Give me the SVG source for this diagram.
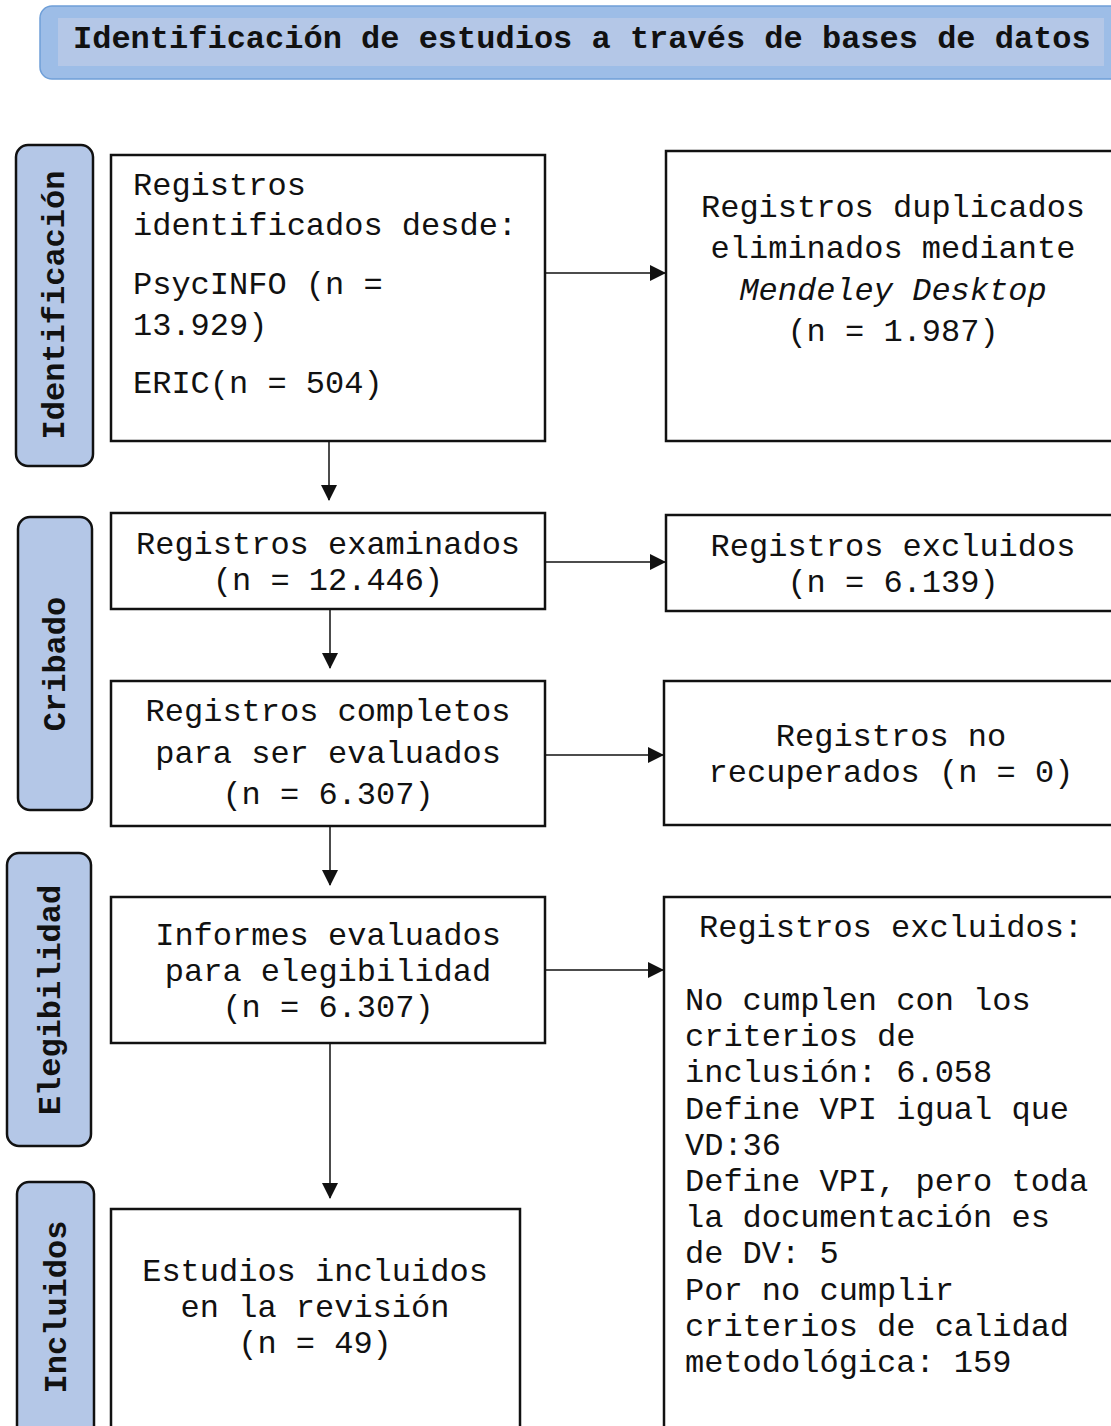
<svg xmlns="http://www.w3.org/2000/svg" width="1111" height="1426" viewBox="0 0 1111 1426">
<style>
.t{font-family:"Liberation Mono","Courier New",monospace;font-size:32px;fill:#111}
.b{font-weight:bold}
.c{text-anchor:middle}
.box{fill:#fff;stroke:#111;stroke-width:2.5}
.side{fill:#b4c7e7;stroke:#111;stroke-width:2.5}
.ln{stroke:#111;stroke-width:1.5;fill:none}
</style>
<defs>
<marker id="ah2" markerWidth="16" markerHeight="16" refX="15" refY="8" orient="auto" markerUnits="userSpaceOnUse" viewBox="0 0 16 16">
<path d="M0,0 L16,8 L0,16 Z" fill="#111"/>
</marker>
</defs>

<g id="title">
<rect x="40" y="6" width="1090" height="73" rx="12" fill="#9dbde7" stroke="#6f9fd8" stroke-width="1.5"/>
<rect x="58" y="18" width="1046" height="48" fill="#b4c7e7"/>
<text class="t b" x="73" y="48">Identificación de estudios a través de bases de datos</text>
</g>

<g id="side-identificacion">
<rect class="side" x="16" y="145" width="77" height="321" rx="12"/>
<text class="t b c" transform="translate(64,305) rotate(-90)">Identificación</text>
</g>
<g id="side-cribado">
<rect class="side" x="18" y="517" width="74" height="293" rx="12"/>
<text class="t b c" transform="translate(65,664) rotate(-90)">Cribado</text>
</g>
<g id="side-elegibilidad">
<rect class="side" x="7" y="853" width="84" height="293" rx="12"/>
<text class="t b c" transform="translate(60,1000) rotate(-90)">Elegibilidad</text>
</g>
<g id="side-incluidos">
<rect class="side" x="17" y="1182" width="77" height="270" rx="12"/>
<text class="t b c" transform="translate(66,1307) rotate(-90)">Incluidos</text>
</g>

<g id="n-identificados">
<rect class="box" x="111" y="155" width="434" height="286"/>
<text class="t" x="133" y="195">Registros</text>
<text class="t" x="133" y="235">identificados desde:</text>
<text class="t" x="133" y="294">PsycINFO (n =</text>
<text class="t" x="133" y="335">13.929)</text>
<text class="t" x="133" y="393">ERIC(n = 504)</text>
</g>

<g id="n-duplicados">
<rect class="box" x="666" y="151" width="470" height="290"/>
<text class="t c" x="893" y="217">Registros duplicados</text>
<text class="t c" x="893" y="258">eliminados mediante</text>
<text class="t c" x="893" y="300" font-style="italic">Mendeley Desktop</text>
<text class="t c" x="893" y="341">(n = 1.987)</text>
</g>

<g id="n-examinados">
<rect class="box" x="111" y="513" width="434" height="96"/>
<text class="t c" x="328" y="554">Registros examinados</text>
<text class="t c" x="328" y="590">(n = 12.446)</text>
</g>

<g id="n-excluidos">
<rect class="box" x="666" y="515" width="470" height="96"/>
<text class="t c" x="893" y="556">Registros excluidos</text>
<text class="t c" x="893" y="592">(n = 6.139)</text>
</g>

<g id="n-completos">
<rect class="box" x="111" y="681" width="434" height="145"/>
<text class="t c" x="328" y="721">Registros completos</text>
<text class="t c" x="328" y="763">para ser evaluados</text>
<text class="t c" x="328" y="804">(n = 6.307)</text>
</g>

<g id="n-norecuperados">
<rect class="box" x="664" y="681" width="472" height="144"/>
<text class="t c" x="891" y="746">Registros no</text>
<text class="t c" x="891" y="782">recuperados (n = 0)</text>
</g>

<g id="n-informes">
<rect class="box" x="111" y="897" width="434" height="146"/>
<text class="t c" x="328" y="945">Informes evaluados</text>
<text class="t c" x="328" y="981">para elegibilidad</text>
<text class="t c" x="328" y="1017">(n = 6.307)</text>
</g>

<g id="n-excluidos2">
<rect class="box" x="664" y="897" width="472" height="560"/>
<text class="t c" x="891" y="937">Registros excluidos:</text>
<text class="t" x="685" y="1010">No cumplen con los</text>
<text class="t" x="685" y="1046">criterios de</text>
<text class="t" x="685" y="1082">inclusión: 6.058</text>
<text class="t" x="685" y="1119">Define VPI igual que</text>
<text class="t" x="685" y="1155">VD:36</text>
<text class="t" x="685" y="1191">Define VPI, pero toda</text>
<text class="t" x="685" y="1227">la documentación es</text>
<text class="t" x="685" y="1263">de DV: 5</text>
<text class="t" x="685" y="1300">Por no cumplir</text>
<text class="t" x="685" y="1336">criterios de calidad</text>
<text class="t" x="685" y="1372">metodológica: 159</text>
</g>

<g id="n-incluidos">
<rect class="box" x="111" y="1209" width="409" height="250"/>
<text class="t c" x="315" y="1281">Estudios incluidos</text>
<text class="t c" x="315" y="1317">en la revisión</text>
<text class="t c" x="315" y="1353">(n = 49)</text>
</g>

<g id="connectors">
<line class="ln" x1="546" y1="273" x2="665" y2="273" marker-end="url(#ah2)"/>
<line class="ln" x1="329" y1="442" x2="329" y2="500" marker-end="url(#ah2)"/>
<line class="ln" x1="546" y1="562" x2="665" y2="562" marker-end="url(#ah2)"/>
<line class="ln" x1="330" y1="610" x2="330" y2="668" marker-end="url(#ah2)"/>
<line class="ln" x1="546" y1="755" x2="663" y2="755" marker-end="url(#ah2)"/>
<line class="ln" x1="330" y1="827" x2="330" y2="885" marker-end="url(#ah2)"/>
<line class="ln" x1="546" y1="970" x2="663" y2="970" marker-end="url(#ah2)"/>
<line class="ln" x1="330" y1="1044" x2="330" y2="1198" marker-end="url(#ah2)"/>
</g>
</svg>
